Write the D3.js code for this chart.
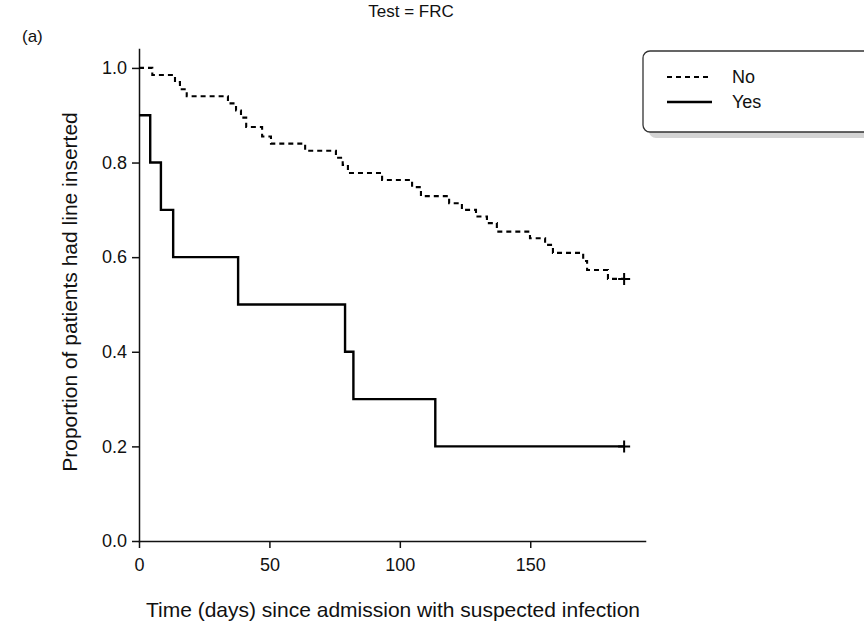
<!DOCTYPE html>
<html>
<head>
  <meta charset="utf-8" />
  <title>Test = FRC</title>
  <script type="text/javascript" src="https://cdn.jsdelivr.net/npm/d3@7/dist/d3.min.js"></script>
  <style type="text/css">
  body {
    margin: 0;
    background: #fff;
  }
  text {
    font-family: "Liberation Sans", Arial, Helvetica, sans-serif;
    fill: #111;
  }
  .axis path, .axis line {
    stroke: #111;
    stroke-width: 1.5px;
  }
  .km {
    fill: none;
    stroke: #000;
  }
  </style>
</head>
<body>
  <script type="text/javascript">
    // Kaplan-Meier steps (time in days, proportion)
    var groups = ['No', 'Yes']
    var noTimes = [0, 5.1, 13.8, 15.7, 18.3, 34.1, 37.2, 39.1, 41.1, 47.2, 50.6, 63.7, 75.5, 78.1,
                   80.1, 93.2, 104.7, 108.1, 118.9, 123.8, 129.2, 133.4, 137.2, 149.9, 155.7,
                   158.7, 170.3, 171.8, 179.8]
    var noSurv = [1.0, 0.985, 0.97, 0.955, 0.94, 0.925, 0.91, 0.895, 0.875, 0.855, 0.84, 0.825,
                  0.81, 0.795, 0.778, 0.763, 0.748, 0.729, 0.714, 0.70, 0.686, 0.672, 0.654,
                  0.64, 0.626, 0.609, 0.592, 0.573, 0.554]
    var yesTimes = [0, 4.3, 8.4, 13.1, 38, 79, 82.2, 113.6]
    var yesSurv = [0.9, 0.8, 0.7, 0.6, 0.5, 0.4, 0.3, 0.2]
    var censorTime = [186, 186]   // last follow-up, marked with +
    var xTicks = [0, 50, 100, 150]
    var yTicks = [0, 0.2, 0.4, 0.6, 0.8, 1.0]

    var w = 864,
        h = 628,
        x = d3.scaleLinear().domain([0, 194]).range([139, 645]),
        y = d3.scaleLinear().domain([0, 1.04]).range([541, 49])

    var svg = d3.select(document.body)
      .append('svg')
      .attr('width', w)
      .attr('height', h)

    svg.append('g')
      .attr('class', 'axis')
      .attr('transform', 'translate(0,' + y(0) + ')')
      .call(d3.axisBottom(x).tickValues(xTicks).tickFormat(d3.format('d'))
        .tickSizeInner(7).tickSizeOuter(0).tickPadding(10))
      .call(function(g) { g.selectAll('text').style('font-size', '18px') })

    svg.append('g')
      .attr('class', 'axis')
      .attr('transform', 'translate(' + x(0) + ',0)')
      .call(d3.axisLeft(y).tickValues(yTicks).tickFormat(d3.format('.1f'))
        .tickSizeInner(7).tickSizeOuter(0).tickPadding(5))
      .call(function(g) { g.selectAll('text').style('font-size', '18px') })

    svg.selectAll('.domain').attr('stroke-linecap', 'square')

    var line = d3.line()
      .x(function(d) { return x(d[0]) })
      .y(function(d) { return y(d[1]) })
      .curve(d3.curveStepAfter)

    function steps(times, surv, end) {
      var pts = times.map(function(t, i) { return [t, surv[i]] })
      pts.push([end, surv[surv.length - 1]])
      return pts
    }

    var series = [
      { name: 'No', pts: steps(noTimes, noSurv, censorTime[0]), dash: '5,4', width: 2.1 },
      { name: 'Yes', pts: steps(yesTimes, yesSurv, censorTime[1]), dash: null, width: 2.4 }
    ]

    series.forEach(function(s) {
      svg.append('path')
        .attr('class', 'km')
        .attr('d', line(s.pts))
        .attr('stroke-width', s.width)
        .attr('stroke-dasharray', s.dash)

      var last = s.pts[s.pts.length - 1]
      var cx = x(last[0]), cy = y(last[1])
      svg.append('path')
        .attr('class', 'km')
        .attr('stroke-width', 2)
        .attr('d', 'M' + (cx - 6) + ',' + cy + 'H' + (cx + 6) + 'M' + cx + ',' + (cy - 6) + 'V' + (cy + 6))
    })

    // titles
    svg.append('text')
      .attr('x', 411).attr('y', 17)
      .attr('text-anchor', 'middle')
      .style('font-size', '17px')
      .text('Test = FRC')

    svg.append('text')
      .attr('x', 22).attr('y', 42)
      .style('font-size', '17px')
      .text('(a)')

    svg.append('text')
      .attr('transform', 'translate(77,' + 292 + ') rotate(-90)')
      .attr('text-anchor', 'middle')
      .style('font-size', '21px')
      .text('Proportion of patients had line inserted')

    svg.append('text')
      .attr('x', 393).attr('y', 617)
      .attr('text-anchor', 'middle')
      .style('font-size', '21px')
      .text('Time (days) since admission with suspected infection')

    // legend box with drop shadow
    var lg = svg.append('g')
    lg.append('rect')
      .attr('x', 649).attr('y', 57).attr('width', 240).attr('height', 81)
      .attr('rx', 7)
      .attr('fill', '#d4d4d4')
    lg.append('rect')
      .attr('x', 643).attr('y', 51).attr('width', 240).attr('height', 81)
      .attr('rx', 7)
      .attr('fill', '#fff')
      .attr('stroke', '#333')
      .attr('stroke-width', 1.3)

    series.forEach(function(s, i) {
      var ly = 77 + i * 25
      lg.append('line')
        .attr('class', 'km')
        .attr('x1', 667).attr('x2', 712)
        .attr('y1', ly).attr('y2', ly)
        .attr('stroke-width', s.width)
        .attr('stroke-dasharray', s.dash)
      lg.append('text')
        .attr('x', 732).attr('y', ly + 6)
        .style('font-size', '18px')
        .text(groups[i])
    })
  </script>
</body>
</html>
